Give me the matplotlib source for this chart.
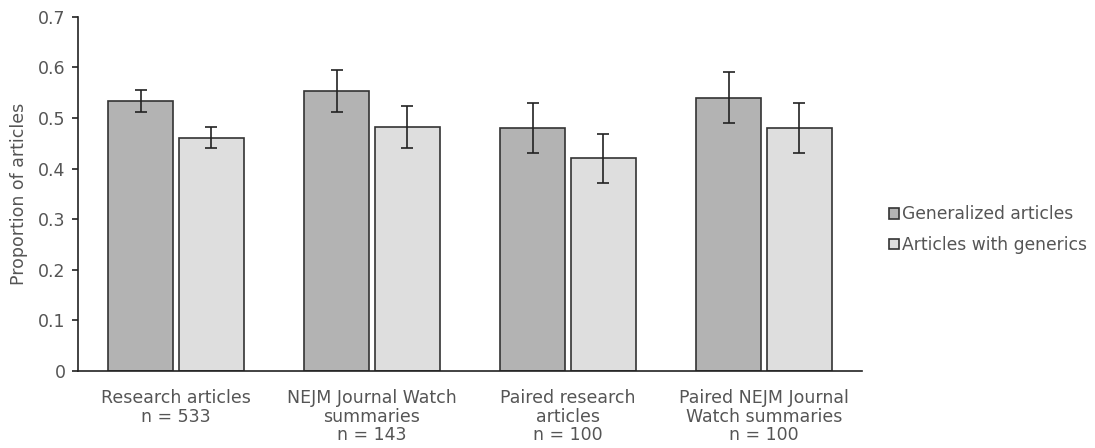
import matplotlib.pyplot as plt
import numpy as np

plt.rcParams.update({
    'font.family': 'DejaVu Sans',
    'font.size': 12.5,
    'text.color': '#555555',
    'axes.labelcolor': '#555555',
    'xtick.color': '#555555',
    'ytick.color': '#555555',
})

categories = ['Research articles\nn = 533',
              'NEJM Journal Watch\nsummaries\nn = 143',
              'Paired research\narticles\nn = 100',
              'Paired NEJM Journal\nWatch summaries\nn = 100']
generalized = [0.534, 0.553, 0.480, 0.540]
generalized_err = [0.022, 0.042, 0.050, 0.050]
generics = [0.461, 0.482, 0.420, 0.480]
generics_err = [0.021, 0.042, 0.049, 0.050]
series_names = ['Generalized articles', 'Articles with generics']

x = np.arange(len(categories))
width = 0.332
offset = 0.181

fig = plt.figure(figsize=(10.95, 4.48), dpi=100)
ax = fig.add_axes([78 / 1095, 77 / 448, (862 - 78) / 1095, (371 - 16.7) / 448])

err_kw = dict(ecolor='#222222', elinewidth=1.2, capsize=4, capthick=1.2)
ax.bar(x - offset, generalized, width, yerr=generalized_err, color='#b3b3b3',
       edgecolor='#333333', linewidth=1.2, label=series_names[0], error_kw=err_kw)
ax.bar(x + offset, generics, width, yerr=generics_err, color='#dedede',
       edgecolor='#333333', linewidth=1.2, label=series_names[1], error_kw=err_kw)

ax.set_xlim(-0.5, 3.5)
ax.set_ylim(0, 0.7)
ax.set_yticks(np.arange(0, 0.71, 0.1))
ax.set_yticklabels(['0'] + [f'{v:.1f}' for v in np.arange(0.1, 0.71, 0.1)])
ax.set_xticks(x)
ax.set_xticklabels(categories, linespacing=1.05)
ax.tick_params(axis='x', length=0, pad=13)
ax.tick_params(axis='y', length=4, width=1.2, color='#222222', pad=5)
ax.set_ylabel('Proportion of articles', labelpad=7)

for side in ['top', 'right']:
    ax.spines[side].set_visible(False)
for side in ['left', 'bottom']:
    ax.spines[side].set_color('#222222')
    ax.spines[side].set_linewidth(1.2)

fig.legend(loc='center left', bbox_to_anchor=(874 / 1095, 0.487), frameon=False,
           handlelength=0.55, handleheight=0.55, handletextpad=0.2, labelspacing=0.75,
           fontsize=12.3)

plt.savefig('out.png', dpi=100)
plt.close()
